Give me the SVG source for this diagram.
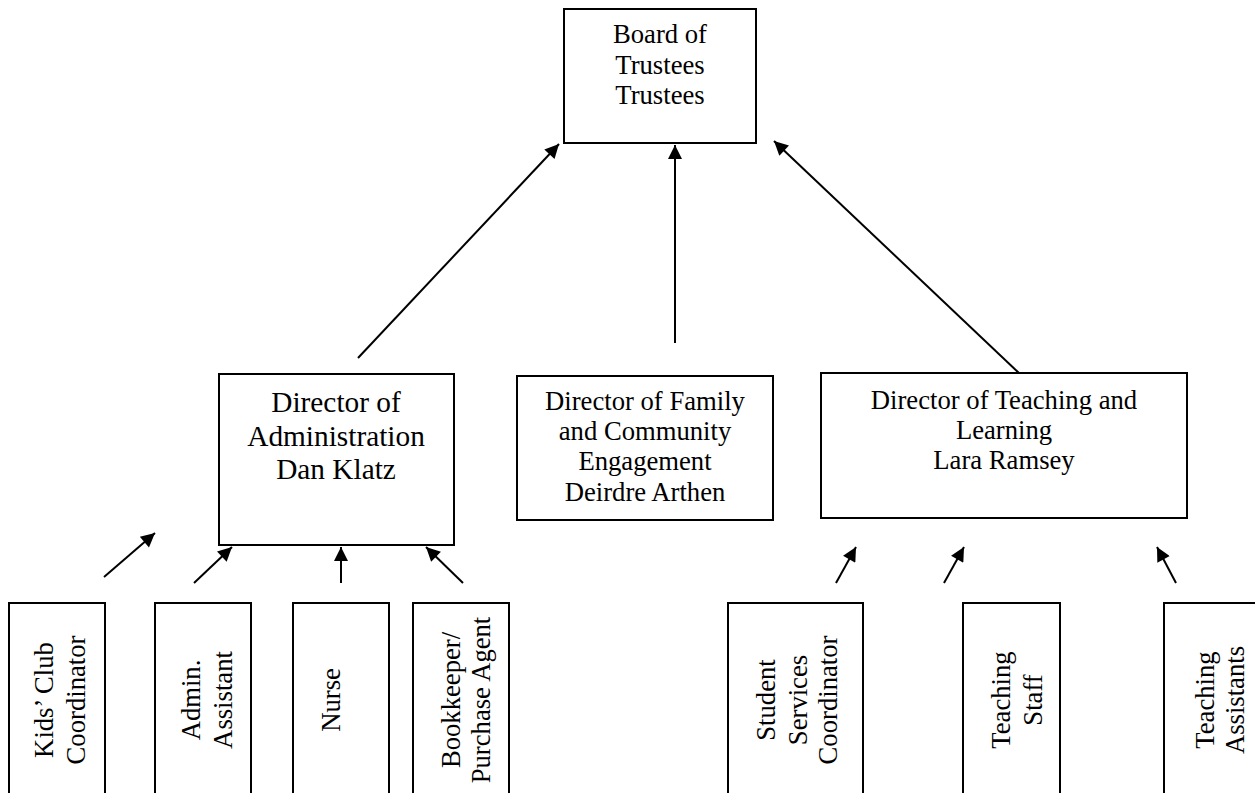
<svg xmlns="http://www.w3.org/2000/svg" width="1255" height="793" viewBox="0 0 1255 793">
<style>
.box{fill:#fff;stroke:#000;stroke-width:2}
.t{font-family:"Liberation Serif","Times New Roman",serif;font-size:26.67px;fill:#000;text-anchor:middle}
.tb{font-size:29.33px}
.c{stroke:#000;stroke-width:2;fill:none;marker-end:url(#ah)}
</style>
<defs>
<marker id="ah" viewBox="0 0 10 10" refX="10" refY="5" markerWidth="8" markerHeight="7" markerUnits="strokeWidth" orient="auto">
<path d="M0,0 L10,5 L0,10 z" fill="#000"/>
</marker>
</defs>
<rect width="1255" height="793" fill="#fff"/>
<g id="connectors">
<line class="c" x1="358" y1="358" x2="559" y2="144"/>
<line class="c" x1="675" y1="343" x2="675" y2="145"/>
<line class="c" x1="1020" y1="374" x2="774" y2="141"/>
<line class="c" x1="104" y1="577" x2="155" y2="533"/>
<line class="c" x1="194" y1="583" x2="232" y2="547"/>
<line class="c" x1="341" y1="583" x2="341" y2="547"/>
<line class="c" x1="463" y1="583" x2="426" y2="547"/>
<line class="c" x1="836" y1="583" x2="856" y2="547"/>
<line class="c" x1="944" y1="583" x2="964" y2="547"/>
<line class="c" x1="1176" y1="583" x2="1157" y2="547"/>
</g>
<g id="board">
<rect class="box" x="564" y="9" width="192" height="134"/>
<text class="t" x="660" y="43">Board of</text>
<text class="t" x="660" y="74">Trustees</text>
<text class="t" x="660" y="104">Trustees</text>
</g>
<g id="dir-admin">
<rect class="box" x="219" y="374" width="235" height="171"/>
<text class="t tb" x="336" y="412">Director of</text>
<text class="t tb" x="336" y="446">Administration</text>
<text class="t tb" x="336" y="479">Dan Klatz</text>
</g>
<g id="dir-family">
<rect class="box" x="517" y="376" width="256" height="144"/>
<text class="t" x="645" y="410">Director of Family</text>
<text class="t" x="645" y="440">and Community</text>
<text class="t" x="645" y="470">Engagement</text>
<text class="t" x="645" y="501">Deirdre Arthen</text>
</g>
<g id="dir-teaching">
<rect class="box" x="821" y="373" width="366" height="145"/>
<text class="t" x="1004" y="409">Director of Teaching and</text>
<text class="t" x="1004" y="439">Learning</text>
<text class="t" x="1004" y="469">Lara Ramsey</text>
</g>
<g id="kids-club">
<rect class="box" x="9" y="603" width="96" height="200"/>
<text class="t" transform="translate(53,700) rotate(-90)">Kids’ Club</text>
<text class="t" transform="translate(85,700) rotate(-90)">Coordinator</text>
</g>
<g id="admin-assistant">
<rect class="box" x="155" y="603" width="96" height="200"/>
<text class="t" transform="translate(200,700) rotate(-90)">Admin.</text>
<text class="t" transform="translate(232,700) rotate(-90)">Assistant</text>
</g>
<g id="nurse">
<rect class="box" x="293" y="603" width="96" height="200"/>
<text class="t" transform="translate(340,700) rotate(-90)">Nurse</text>
</g>
<g id="bookkeeper">
<rect class="box" x="413" y="603" width="96" height="200"/>
<text class="t" transform="translate(460,700) rotate(-90)">Bookkeeper/</text>
<text class="t" transform="translate(490,700) rotate(-90)">Purchase Agent</text>
</g>
<g id="student-services">
<rect class="box" x="728" y="603" width="135" height="200"/>
<text class="t" transform="translate(775,700) rotate(-90)">Student</text>
<text class="t" transform="translate(807,700) rotate(-90)">Services</text>
<text class="t" transform="translate(837,700) rotate(-90)">Coordinator</text>
</g>
<g id="teaching-staff">
<rect class="box" x="963" y="603" width="97" height="200"/>
<text class="t" transform="translate(1010,700) rotate(-90)">Teaching</text>
<text class="t" transform="translate(1042,700) rotate(-90)">Staff</text>
</g>
<g id="teaching-assistants">
<rect class="box" x="1164" y="603" width="100" height="200"/>
<text class="t" transform="translate(1214,700) rotate(-90)">Teaching</text>
<text class="t" transform="translate(1244,700) rotate(-90)">Assistants</text>
</g>
</svg>
